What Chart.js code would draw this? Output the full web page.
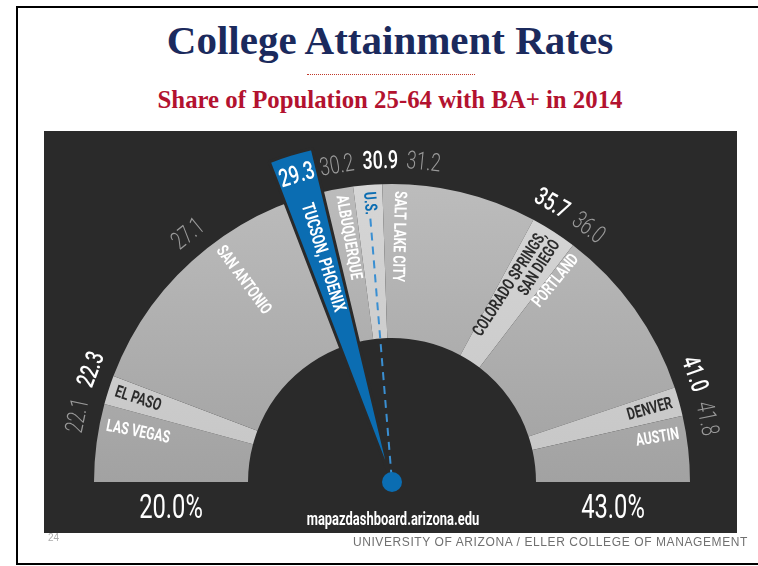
<!DOCTYPE html>
<html>
<head>
<meta charset="utf-8">
<script src="https://cdn.jsdelivr.net/npm/chart.js@4.4.1/dist/chart.umd.min.js"></script>
<style>
  html, body { margin: 0; padding: 0; background: #fff; }
  body { width: 758px; height: 566px; position: relative; overflow: hidden; }
  #frame { position: absolute; left: 16px; top: 6px; width: 800px; height: 555px;
           border-left: 2px solid #000; border-top: 2px solid #000; border-bottom: 2px solid #000; }
  #title { position: absolute; left: 0; width: 780px; top: 20px; text-align: center; white-space: nowrap;
           font: bold 41px/41px "Liberation Serif", "Times New Roman", serif; color: #1b2a5d; }
  #rule { position: absolute; left: 307px; top: 74px; width: 168px; border-top: 1px dotted #c0392b; }
  #subtitle { position: absolute; left: 0; width: 780px; top: 88px; text-align: center; white-space: nowrap;
              font: bold 24.8px/24.8px "Liberation Serif", "Times New Roman", serif; color: #b3122f; }
  #panel { position: absolute; left: 44px; top: 131px; width: 693px; height: 402px; background: #2a2a2a; }
  canvas { position: absolute; left: 44px; top: 131px; }
  #page { position: absolute; left: 48px; top: 533px; font: 10px/10px "Liberation Sans", Arial, sans-serif; color: #aaa; }
  #footer { position: absolute; right: 10px; top: 536px; white-space: nowrap; letter-spacing: 0.6px;
            font: 12px/12px "Liberation Sans", Arial, sans-serif; color: #707070; }
</style>
</head>
<body>
<div id="frame"></div>
<div id="title">College Attainment Rates</div>
<div id="rule"></div>
<div id="subtitle">Share of Population 25-64 with BA+ in 2014</div>
<div id="panel"></div>
<canvas id="cA" width="693" height="402"></canvas>
<canvas id="cB" width="693" height="402"></canvas>
<div id="page">24</div>
<div id="footer">UNIVERSITY OF ARIZONA / ELLER COLLEGE OF MANAGEMENT</div>
<script>
// ---------------- DATA ----------------
const SCALE_MIN = 20;
const SCALE_MAX = 43;
const endLabels = ['20.0%', '43.0%'];
const cityNames = ['LAS VEGAS', 'EL PASO', 'SAN ANTONIO', 'TUCSON, PHOENIX', 'ALBUQUERQUE', 'U.S.',
                   'SALT LAKE CITY', 'COLORADO SPRINGS,|SAN DIEGO', 'PORTLAND', 'DENVER', 'AUSTIN'];
const cityValues = [22.1, 22.3, 27.1, 29.3, 30.2, 30.9, 31.2, 35.7, 36.0, 41.0, 41.8];
const cityRoles = ['plain', 'band', 'plain', 'focus', 'plain', 'reference', 'plain', 'band', 'plain', 'band', 'plain'];
const valueLabels = ['22.1', '22.3', '27.1', '29.3', '30.2', '30.9', '31.2', '35.7', '36.0', '41.0', '41.8'];
const sourceLabel = 'mapazdashboard.arizona.edu';

// ---------------- STYLE ----------------
const STYLE = {
  outerR: 298, innerR: 144, focusR: 343,
  stripeHalf: 0.36, stripeExtraPerLine: 0.22, focusHalf: 0.48,
  nameR: 291, valueR: 320,
  nameNudge:  [5.4, 0, 2, 0, 0, 0, -3.8, 0, -4, 0, 0],       // degrees (counter-clockwise)
  valueNudge: [4.5, -2.5, 5, 0, -0.3, -2.6, -8, 3, -2.5, 4, 2],
  font: 'Roboto, "Liberation Sans", sans-serif',
  narrow: 0.72,
  panel: '#2a2a2a', blue: '#0b6db2', dash: '#3a8fd2',
  white: '#ffffff', grayText: '#9a9a9a', darkText: '#2b2b2b'
};

// segments of the gray band (values, built from the data)
const segValues = [], segKinds = [];
let cursor = SCALE_MIN;
cityValues.forEach((v, i) => {
  const role = cityRoles[i];
  if (role !== 'band' && role !== 'reference') return;
  const lines = cityNames[i].split('|').length;
  const half = STYLE.stripeHalf + STYLE.stripeExtraPerLine * (lines - 1);
  segValues.push(v - half - cursor); segKinds.push('base');
  segValues.push(2 * half); segKinds.push('stripe');
  cursor = v + half;
});
segValues.push(SCALE_MAX - cursor); segKinds.push('base');

const fi = cityRoles.indexOf('focus');
const fv = cityValues[fi];
const focusValues = [fv - STYLE.focusHalf - SCALE_MIN, 2 * STYLE.focusHalf, SCALE_MAX - fv - STYLE.focusHalf];

// ---------------- CHART A: gray band ----------------
const ctxA = document.getElementById('cA').getContext('2d');
const gBase = ctxA.createLinearGradient(0, 53, 0, 351);
gBase.addColorStop(0, '#bcbcbc'); gBase.addColorStop(1, '#a2a2a2');
const gStripe = ctxA.createLinearGradient(0, 53, 0, 351);
gStripe.addColorStop(0, '#d6d6d6'); gStripe.addColorStop(1, '#c6c6c6');

const chartA = new Chart(ctxA, {
  type: 'doughnut',
  data: { labels: segKinds, datasets: [{ data: segValues,
    backgroundColor: segKinds.map(k => k === 'base' ? gBase : gStripe), borderWidth: 0 }] },
  options: {
    responsive: false, animation: false, events: [],
    rotation: -90, circumference: 180, radius: STYLE.outerR,
    cutout: (STYLE.innerR / STYLE.outerR * 100) + '%',
    layout: { padding: { left: 3, top: 2, right: 0, bottom: 0 } },
    plugins: { legend: { display: false }, tooltip: { enabled: false } }
  }
});

// ---------------- labels plugin ----------------
function drawText(ctx, s, x, y, rot, font, color, align, base) {
  ctx.save();
  ctx.translate(x, y); ctx.rotate(rot); ctx.scale(STYLE.narrow, 1);
  ctx.font = font; ctx.fillStyle = color; ctx.textAlign = align; ctx.textBaseline = base || 'middle';
  ctx.fillText(s, 0, 0);
  ctx.restore();
}

const gaugeText = {
  id: 'gaugeText',
  afterDatasetsDraw(chart) {
    const ctx = chart.ctx;
    const arcs = chartA.getDatasetMeta(0).data;
    const a0 = arcs[0], aN = arcs[arcs.length - 1];
    const cx = a0.x, cy = a0.y, rIn = a0.innerRadius, rOut = a0.outerRadius;
    const span = aN.endAngle - a0.startAngle;
    const ang = v => a0.startAngle + (v - SCALE_MIN) / (SCALE_MAX - SCALE_MIN) * span;
    const D = Math.PI / 180;
    const P = (phi, r) => [cx + r * Math.cos(phi), cy + r * Math.sin(phi)];
    const nameFont = size => 'bold ' + size + 'px ' + STYLE.font;

    // reference dashed line
    const ri = cityRoles.indexOf('reference');
    if (ri >= 0) {
      const phi = ang(cityValues[ri]);
      ctx.save();
      ctx.font = nameFont(17);
      const w = ctx.measureText(cityNames[ri]).width * STYLE.narrow;
      const [x1, y1] = P(phi, STYLE.nameR - w - 4);
      const [x2, y2] = P(phi, 0);
      ctx.strokeStyle = STYLE.dash; ctx.lineWidth = 2; ctx.setLineDash([8, 6]);
      ctx.beginPath(); ctx.moveTo(x1, y1); ctx.lineTo(x2, y2); ctx.stroke();
      ctx.restore();
    }
    // hub
    ctx.save(); ctx.fillStyle = STYLE.blue; ctx.beginPath(); ctx.arc(cx, cy, 10, 0, Math.PI * 2); ctx.fill(); ctx.restore();

    // city names inside the band
    cityValues.forEach((v, i) => {
      const phi = ang(v) - STYLE.nameNudge[i] * D;
      const role = cityRoles[i];
      const lines = cityNames[i].split('|');
      const inward = phi < -85 * D;
      const color = role === 'band' ? STYLE.darkText : role === 'reference' ? STYLE.blue : STYLE.white;
      const size = role === 'focus' ? 18 : 17;
      const [x, y] = P(phi, STYLE.nameR);
      ctx.save();
      ctx.translate(x, y); ctx.rotate(inward ? phi + Math.PI : phi);
      lines.forEach((ln, k) => {
        drawText(ctx, ln, 0, (k - (lines.length - 1) / 2) * 16, 0, nameFont(size),
                 color, inward ? 'left' : 'right');
      });
      ctx.restore();
    });

    // value labels outside
    cityValues.forEach((v, i) => {
      const phi = ang(v) - STYLE.valueNudge[i] * D;
      const hi = cityRoles[i] !== 'plain';
      const [x, y] = P(phi, STYLE.valueR);
      drawText(ctx, valueLabels[i], x, y, phi + Math.PI / 2,
               (hi ? '500 ' : '300 ') + '25px ' + STYLE.font, hi ? STYLE.white : STYLE.grayText, 'center');
    });

    // scale end labels + source
    const mid = (rIn + rOut) / 2;
    drawText(ctx, endLabels[0], cx - mid, cy + 36, 0, '400 33px ' + STYLE.font, STYLE.white, 'center', 'alphabetic');
    drawText(ctx, endLabels[1], cx + mid, cy + 36, 0, '400 33px ' + STYLE.font, STYLE.white, 'center', 'alphabetic');
    drawText(ctx, sourceLabel, cx + 1, cy + 43, 0, 'bold 18px ' + STYLE.font, STYLE.white, 'center', 'alphabetic');
  }
};

// ---------------- CHART B: focus wedge ----------------
const chartB = new Chart(document.getElementById('cB'), {
  type: 'pie',
  data: { labels: ['before', cityNames[fi], 'after'], datasets: [{ data: focusValues,
    backgroundColor: ['rgba(0,0,0,0)', STYLE.blue, 'rgba(0,0,0,0)'],
    borderColor: STYLE.panel, borderWidth: [0, 3, 0] }] },
  options: {
    responsive: false, animation: false, events: [],
    rotation: -90, circumference: 180, radius: STYLE.focusR, cutout: 0,
    layout: { padding: { left: 3, top: 0, right: 0, bottom: 43 } },
    plugins: { legend: { display: false }, tooltip: { enabled: false } }
  },
  plugins: [gaugeText]
});
</script>
</body>
</html>
